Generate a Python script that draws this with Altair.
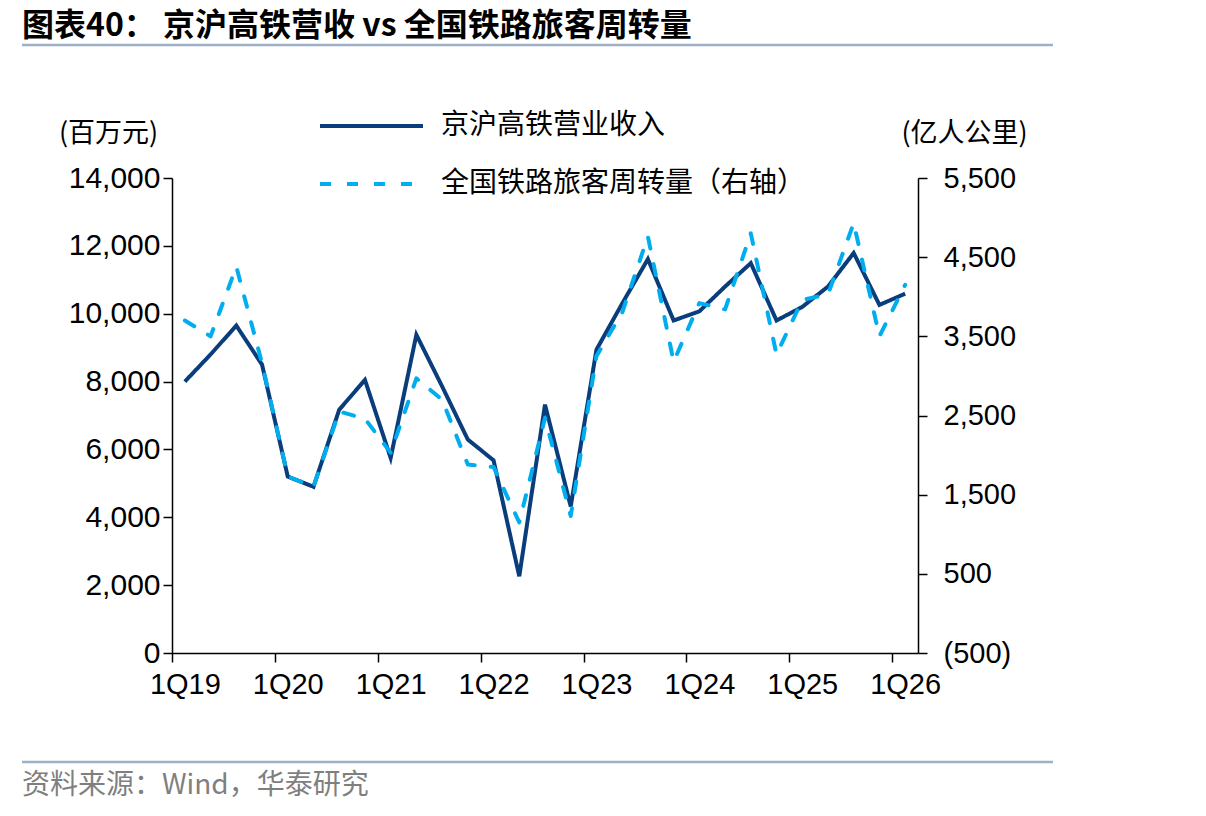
import altair as alt
import pandas as pd

# ---------------- data ----------------
quarters = [
    "1Q19", "2Q19", "3Q19", "4Q19",
    "1Q20", "2Q20", "3Q20", "4Q20",
    "1Q21", "2Q21", "3Q21", "4Q21",
    "1Q22", "2Q22", "3Q22", "4Q22",
    "1Q23", "2Q23", "3Q23", "4Q23",
    "1Q24", "2Q24", "3Q24", "4Q24",
    "1Q25", "2Q25", "3Q25", "4Q25",
    "1Q26",
]
# 京沪高铁营业收入 (百万元)
revenue = [8000, 8800, 9650, 8500, 5200, 4900, 7170, 8050, 5750, 9380,
           7860, 6290, 5680, 2260, 7320, 4320, 8940, 10300, 11610, 9800,
           10070, 10800, 11490, 9800, 10200, 10800, 11790, 10260, 10590]
# 全国铁路旅客周转量 (亿人公里)
passenger = [3700, 3500, 4380, 3160, 1730, 1600, 2550, 2460, 2030, 2970,
             2700, 1880, 1850, 1150, 2470, 1230, 3250, 3800, 4760, 3180,
             3920, 3840, 4800, 3270, 3960, 4030, 4930, 3500, 4150]

tick_quarters = ["1Q19", "1Q20", "1Q21", "1Q22", "1Q23", "1Q24", "1Q25", "1Q26"]
left_ticks = [0, 2000, 4000, 6000, 8000, 10000, 12000, 14000]
right_ticks = [-500, 500, 1500, 2500, 3500, 4500, 5500]
series_names = ["京沪高铁营业收入", "全国铁路旅客周转量（右轴）"]
series_colors = ["#0A3D7C", "#00AEEF"]

title_text = "图表40： 京沪高铁营收 vs 全国铁路旅客周转量"
source_text = "资料来源：Wind，华泰研究"

df_rev = pd.DataFrame({"quarter": quarters, "value": revenue, "series": series_names[0]})
df_pax = pd.DataFrame({"quarter": quarters, "value": passenger, "series": series_names[1]})

W, H = 746, 475
PAD_L, PAD_T = 172, 178
HALF_BAND = W / len(quarters) / 2

CJK = "Noto Sans CJK SC"
LAT = "Liberation Sans"

SYM_LEN = 103
ROW_H = 30
legend_spec = alt.Legend(
    title=None,
    orient="none",
    legendX=146,
    legendY=126 - PAD_T - ROW_H / 2,
    symbolType="stroke",
    symbolSize=SYM_LEN * SYM_LEN,
    symbolStrokeWidth=4,
    clipHeight=ROW_H,
    labelFont=CJK,
    labelFontSize=28,
    labelColor="#000000",
    labelOffset=16,
    labelLimit=600,
    rowPadding=58 - ROW_H,
    padding=0,
)

x_enc = alt.X(
    "quarter:O",
    sort=quarters,
    scale=alt.Scale(type="band", domain=quarters, paddingInner=0, paddingOuter=0),
    axis=alt.Axis(
        values=tick_quarters,
        title=None,
        labelAngle=0,
        labelFont=LAT,
        labelFontSize=29,
        labelColor="#000000",
        labelPadding=8,
        tickOffset=-HALF_BAND,
        labelOffset=HALF_BAND,
        tickSize=9,
        tickColor="#000000",
        tickWidth=1.5,
        domainColor="#000000",
        domainWidth=1.5,
        grid=False,
    ),
)

color_enc = alt.Color(
    "series:N",
    scale=alt.Scale(domain=series_names, range=series_colors),
    legend=legend_spec,
)
dash_enc = alt.StrokeDash(
    "series:N",
    scale=alt.Scale(domain=series_names, range=[[1, 0], [11, 16]]),
    legend=legend_spec,
)

rev_line = alt.Chart(df_rev).mark_line(strokeWidth=4, strokeJoin="miter").encode(
    x=x_enc,
    y=alt.Y(
        "value:Q",
        scale=alt.Scale(domain=[0, 14000], nice=False, zero=False),
        axis=alt.Axis(
            orient="left",
            values=left_ticks,
            labelExpr="format(datum.value, ',')",
            title="(百万元)",
            titleAngle=0,
            titleX=-64,
            titleY=-45,
            titleAlign="center",
            titleBaseline="middle",
            titleFont=CJK,
            titleFontSize=27,
            titleFontWeight="normal",
            titleColor="#000000",
            labelFont=LAT,
            labelFontSize=30,
            labelColor="#000000",
            labelPadding=3,
            tickSize=9,
            tickColor="#000000",
            tickWidth=1.5,
            domainColor="#000000",
            domainWidth=1.5,
            grid=False,
        ),
    ),
    color=color_enc,
    strokeDash=dash_enc,
)

pax_line = alt.Chart(df_pax).mark_line(strokeWidth=4, strokeCap="round", strokeJoin="round").encode(
    x=x_enc,
    y=alt.Y(
        "value:Q",
        scale=alt.Scale(domain=[-500, 5500], nice=False, zero=False),
        axis=alt.Axis(
            orient="right",
            values=right_ticks,
            labelExpr="datum.value < 0 ? '(' + format(-datum.value, ',') + ')' : format(datum.value, ',')",
            title="(亿人公里)",
            titleAngle=0,
            titleX=46,
            titleY=-45,
            titleAlign="center",
            titleBaseline="middle",
            titleFont=CJK,
            titleFontSize=27,
            titleFontWeight="normal",
            titleColor="#000000",
            labelFont=LAT,
            labelFontSize=29,
            labelColor="#000000",
            labelPadding=16,
            tickSize=9,
            tickColor="#000000",
            tickWidth=1.5,
            domainColor="#000000",
            domainWidth=1.5,
            grid=False,
        ),
    ),
    color=color_enc,
    strokeDash=dash_enc,
)

# ---------------- decorations ----------------
left_edge = 22 - PAD_L
right_edge = 1053 - PAD_L

title_mark = alt.Chart(pd.DataFrame({"t": [title_text]})).mark_text(
    font=CJK, fontSize=32, fontWeight="bold", color="#000000",
    align="left", baseline="middle",
).encode(x=alt.value(left_edge), y=alt.value(26 - PAD_T), text="t:N")

top_rule = alt.Chart(pd.DataFrame({"k": [0]})).mark_rule(
    color="#9DB0C8", strokeWidth=2.5
).encode(x=alt.value(left_edge), x2=alt.value(right_edge), y=alt.value(45 - PAD_T))

bottom_rule = alt.Chart(pd.DataFrame({"k": [0]})).mark_rule(
    color="#9DB0C8", strokeWidth=2.5
).encode(x=alt.value(left_edge), x2=alt.value(right_edge), y=alt.value(762 - PAD_T))

source_mark = alt.Chart(pd.DataFrame({"t": [source_text]})).mark_text(
    font=CJK, fontSize=28, color="#7F7F7F", align="left", baseline="middle",
).encode(x=alt.value(left_edge), y=alt.value(786 - PAD_T), text="t:N")

chart = (
    alt.layer(rev_line, pax_line, title_mark, top_rule, bottom_rule, source_mark)
    .resolve_scale(y="independent")
    .properties(
        width=W,
        height=H,
        autosize=alt.AutoSizeParams(type="none"),
        padding={"left": PAD_L, "top": PAD_T, "right": 1206 - PAD_L - W, "bottom": 816 - PAD_T - H},
        background="#FFFFFF",
    )
    .configure_view(stroke=None)
)

chart.save("out.html", embed_options={"renderer": "svg", "actions": False})
